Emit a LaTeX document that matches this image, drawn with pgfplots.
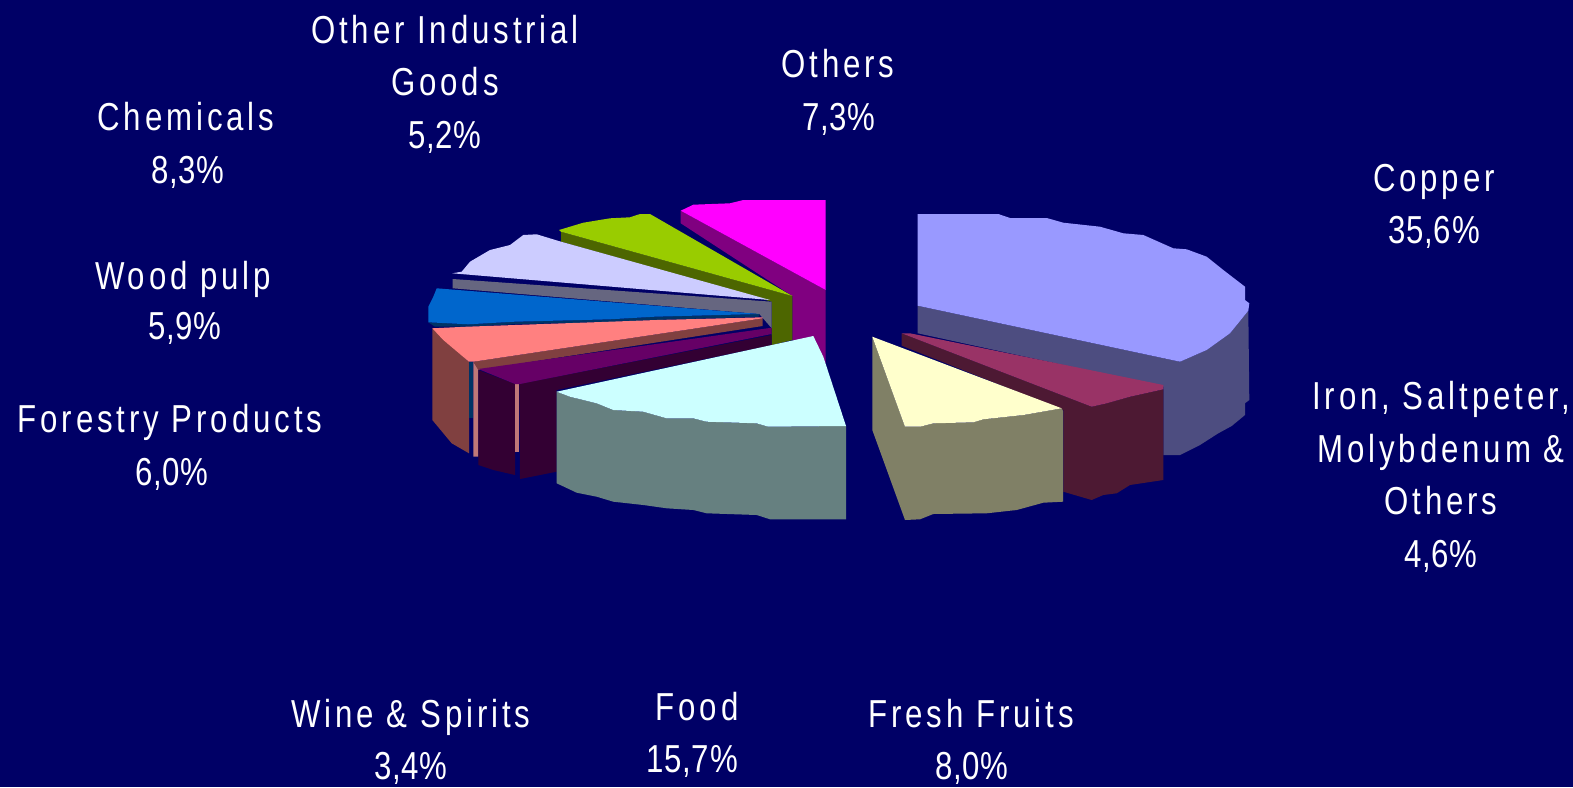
\documentclass[border=0pt]{standalone}
\usepackage{fontspec}
\usepackage{pgfplots}
\pgfplotsset{compat=1.18}
\setmainfont[FakeStretch=0.8,LetterSpace=10]{Liberation Sans}
\newfontfamily\pctfont[FakeStretch=0.8,LetterSpace=2]{Liberation Sans}
\definecolor{bg}{HTML}{000066}
\definecolor{c4D4D80}{HTML}{4D4D80}
\definecolor{c9999FF}{HTML}{9999FF}
\definecolor{c4D1933}{HTML}{4D1933}
\definecolor{c993366}{HTML}{993366}
\definecolor{c808066}{HTML}{808066}
\definecolor{cFFFFCC}{HTML}{FFFFCC}
\definecolor{c800080}{HTML}{800080}
\definecolor{cFF00FF}{HTML}{FF00FF}
\definecolor{c4D6600}{HTML}{4D6600}
\definecolor{c99CC00}{HTML}{99CC00}
\definecolor{c666680}{HTML}{666680}
\definecolor{cCCCCFF}{HTML}{CCCCFF}
\definecolor{c003366}{HTML}{003366}
\definecolor{c0066CC}{HTML}{0066CC}
\definecolor{c804040}{HTML}{804040}
\definecolor{cC07878}{HTML}{C07878}
\definecolor{cFF8080}{HTML}{FF8080}
\definecolor{c330033}{HTML}{330033}
\definecolor{c660066}{HTML}{660066}
\definecolor{c668080}{HTML}{668080}
\definecolor{cCCFFFF}{HTML}{CCFFFF}
\newcommand{\poly}[2]{\addplot[fill=c#1,draw=none,forget plot] coordinates {#2} --cycle;}
\newcommand{\lbl}[3]{\node[text=white,anchor=base,inner sep=0pt,font=\fontsize{39}{44}\selectfont] at (axis cs:#1,#2) {#3};}
\newcommand{\pct}[3]{\node[text=white,anchor=base,inner sep=0pt,font=\fontsize{39}{44}\selectfont\pctfont] at (axis cs:#1,#2) {#3};}
\begin{document}
\begin{tikzpicture}
\begin{axis}[scale only axis,width=1573pt,height=787pt,xmin=0,xmax=1573,ymin=0,ymax=787,y dir=reverse,
  ticks=none,axis line style={draw=none},axis background/.style={fill=bg}]
% Copper
\poly{4D4D80}{(917.7,305.7)(1180,361.7)(1206.7,350)(1230,333.3)(1248.3,310.7)(1249.3,400)(1245,403.3)(1245,415)(1231.7,426)(1218.3,433.3)(1200,445)(1180,455)(1163.3,455)(1163.3,386.7)(917.7,333.3)}
\poly{9999FF}{(917.7,214)(998.3,214)(1010,218)(1046.7,218)(1063.3,222.7)(1100,226.7)(1123.3,233.3)(1143.3,235)(1173.3,248.3)(1186.7,249.3)(1206.7,256.7)(1223.3,270)(1245,286.7)(1245,300)(1249.3,303.3)(1248.3,310.7)(1230,333.3)(1206.7,350)(1180,361.7)(917.7,305.7)}
% Iron
\poly{4D1933}{(901.7,333.3)(1091.7,406.7)(1106.7,403.3)(1130,396.7)(1163.3,389.3)(1163.3,480)(1130,485)(1116.7,493.3)(1103.3,495)(1091.7,500)(1063.3,491.7)(1063.3,410)(901.7,345.7)}
\poly{993366}{(901.7,333.3)(910,333.3)(1163.3,385)(1163.3,389.3)(1130,396.7)(1106.7,403.3)(1091.7,406.7)}
% Fresh fruits
\poly{808066}{(872.3,336.7)(905,426.7)(920,426.7)(933.3,423.3)(973.3,422.3)(983.3,419.3)(1023.3,415)(1061.7,408.3)(1063,411)(1063,501.7)(1043.3,502.7)(1016.7,510)(986.7,513.3)(933.3,514)(920,519.3)(905,520)(872.3,430)}
\poly{FFFFCC}{(872.3,336.7)(1061.7,408.3)(1023.3,415)(983.3,419.3)(973.3,422.3)(933.3,423.3)(920,426.7)(905,426.7)}
% Others
\poly{800080}{(680.7,210.7)(825.7,290)(825.7,363.3)(792.3,340)(792.3,296)(680.7,223.3)}
\poly{FF00FF}{(680.7,210.7)(693.3,204.7)(730,203.3)(743.3,200)(825.7,200)(825.7,290)}
% Other industrial goods
\poly{4D6600}{(561,231.7)(792.3,296)(792.3,340)(771.7,345)(771.7,301.7)(561,241.7)}
\poly{99CC00}{(559,230)(583.3,222.7)(610,218.3)(630,217.3)(640,214)(650,214)(792.3,296)(561,231.7)}
% Chemicals
\poly{666680}{(452.7,279)(771.7,301.7)(771.7,328.3)(759.3,314)(452.7,288.3)}
\poly{CCCCFF}{(452.3,273.3)(461.7,271.7)(470,261.7)(490,250)(510,245)(523.3,235)(536.7,234.3)(561,241.7)(770,300)}
% Wood pulp
\poly{003366}{(428.3,322.3)(468.3,324.3)(515,321.7)(610,319.3)(655,316.7)(759.3,314)(759.3,316.7)(655,320)(610,322)(515,324.3)(468.3,326.7)(435,326.7)}
\poly{0066CC}{(436.7,288.3)(759.3,314)(655,316.7)(610,319.3)(515,321.7)(468.3,324.3)(428.3,322.3)(428.3,306.7)(433.3,296.7)}
% Forestry products
\poly{804040}{(432.3,328.3)(469,361.7)(469,453.3)(451.7,443.3)(432.3,420)}
\poly{003366}{(469,361.7)(473.3,361.7)(473.3,418.3)(469,418.3)}
\poly{C07878}{(473.3,361.7)(478.3,369)(478.3,456.7)(473.3,456.7)}
\poly{804040}{(473.3,361.7)(762.7,318.3)(762.7,326)(478.3,370)}
\poly{FF8080}{(432.3,328.3)(466.7,326.7)(515,325)(610,321.7)(656.7,320)(762.7,317.3)(762.7,318.3)(473.3,361.7)(469,361.7)(443.3,340)}
% Wine and spirits
\poly{330033}{(478.3,370)(515,384)(515,475)(493.3,470)(478.3,465)}
\poly{C07878}{(515,384)(519.3,384)(519.3,451.7)(515,451.7)}
\poly{330033}{(519.3,384)(771.7,335)(771.7,345)(556.7,390)(556.7,471.7)(520,479)}
\poly{660066}{(478.3,369)(771.7,327.7)(771.7,334)(520,384)(515,384)}
% Food
\poly{668080}{(556.7,391.7)(570,396.7)(596.7,403.3)(613.3,410)(643.3,411.7)(666.7,418.3)(693.3,418.3)(706.7,421.7)(756.7,423.3)(768.3,426.7)(846,426)(846,519.3)(770,519.3)(756.7,515)(706.7,513.3)(693.3,510)(666.7,508.3)(643.3,505)(613.3,501.7)(596.7,496.7)(576.7,492.7)(556.7,483.3)}
\poly{CCFFFF}{(813.3,336)(823.3,356.7)(846,426)(768.3,426.7)(756.7,423.3)(706.7,421.7)(693.3,418.3)(666.7,418.3)(643.3,411.7)(613.3,410)(596.7,403.3)(570,396.7)(556.7,391.7)}
% Labels
\lbl{445}{43}{Other Industrial}
\lbl{445}{95}{Goods}
\pct{445}{148}{5,2\%}
\lbl{186}{130}{Chemicals}
\pct{188}{183}{8,3\%}
\lbl{183}{289}{Wood pulp}
\pct{185}{339}{5,9\%}
\lbl{170}{432}{Forestry Products}
\pct{172}{485}{6,0\%}
\lbl{838}{77}{Others}
\pct{839}{130}{7,3\%}
\lbl{1434}{191}{Copper}
\pct{1434}{243}{35,6\%}
\lbl{1441}{409}{Iron, Saltpeter,}
\lbl{1441}{462}{Molybdenum \&}
\lbl{1441}{514}{Others}
\pct{1441}{567}{4,6\%}
\lbl{411}{727}{Wine \& Spirits}
\pct{411}{779}{3,4\%}
\lbl{697}{720}{Food}
\pct{692}{772}{15,7\%}
\lbl{971}{727}{Fresh Fruits}
\pct{972}{779}{8,0\%}
\end{axis}
\end{tikzpicture}
\end{document}
